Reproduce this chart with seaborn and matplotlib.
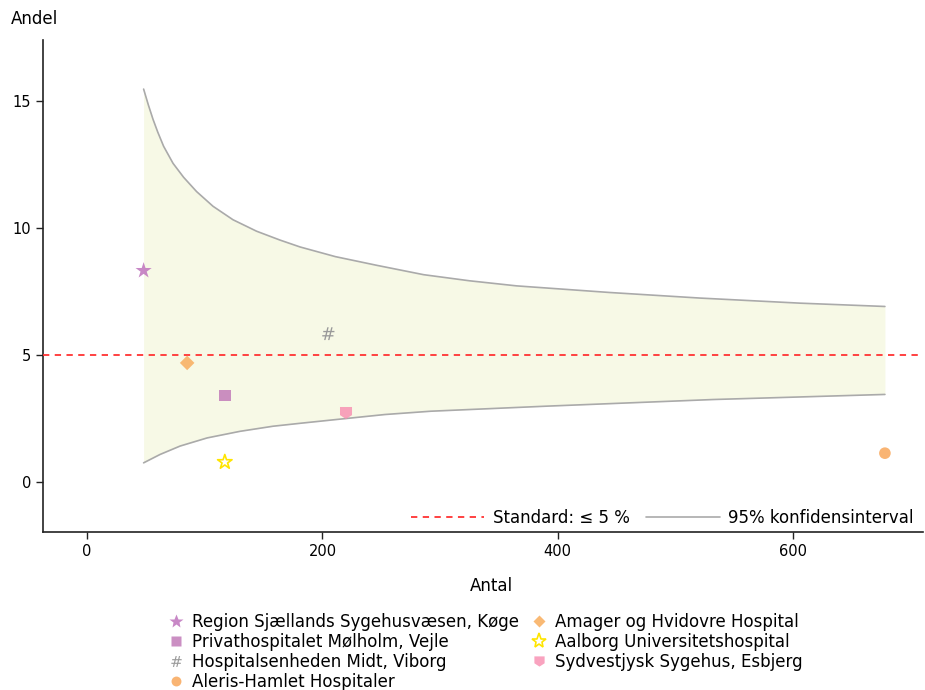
import numpy as np
import pandas as pd
import matplotlib
matplotlib.use("Agg")
import matplotlib.pyplot as plt
from matplotlib.path import Path
from matplotlib.lines import Line2D
import seaborn as sns

# Hospitals: number of patients (Antal) and share in percent (Andel)
hospitals = [
    "Region Sjællands Sygehusvæsen, Køge",
    "Privathospitalet Mølholm, Vejle",
    "Hospitalsenheden Midt, Viborg",
    "Aleris-Hamlet Hospitaler",
    "Amager og Hvidovre Hospital",
    "Aalborg Universitetshospital",
    "Sydvestjysk Sygehus, Esbjerg",
]
antal = [48, 117, 205, 678, 85, 117, 220]
andel = [8.33, 3.42, 5.85, 1.15, 4.70, 0.80, 2.73]

# 95% control limits around the 5 % standard
ci_upper_n = [48, 52, 56, 60, 65, 73, 82, 93, 107, 124, 144, 164, 181, 211,
              246, 286, 325, 365, 444, 521, 606, 678]
ci_upper = [15.47, 14.85, 14.28, 13.78, 13.22, 12.55, 12.00, 11.44, 10.86, 10.33,
            9.88, 9.53, 9.26, 8.88, 8.54, 8.17, 7.93, 7.73, 7.47, 7.25, 7.05, 6.92]
ci_lower_n = [48, 62, 79, 102, 130, 158, 182, 211, 253, 292, 391, 532, 678]
ci_lower = [0.77, 1.10, 1.43, 1.75, 2.01, 2.21, 2.33, 2.47, 2.67, 2.80, 3.00,
            3.26, 3.46]

standard = 5

# shield-shaped marker for Esbjerg
shield = Path([(-1, 1), (1, 1), (1, -0.35), (0, -1), (-1, -0.35), (-1, 1)],
              [Path.MOVETO, Path.LINETO, Path.LINETO, Path.LINETO, Path.LINETO,
               Path.CLOSEPOLY])

styles = {
    hospitals[0]: dict(marker="*", color="#c27bc0", s=150, alpha=0.9),
    hospitals[1]: dict(marker="s", color="#c27bb9", s=70, alpha=0.85),
    hospitals[2]: dict(marker="$\\#$", color="#9a9a9a", s=85, alpha=1.0),
    hospitals[3]: dict(marker="o", color="#f9b06b", s=70, alpha=0.95),
    hospitals[4]: dict(marker="D", color="#f9b56c", s=55, alpha=0.95),
    hospitals[5]: dict(marker="*", color="#ffe500", s=120, alpha=1.0, hollow=True),
    hospitals[6]: dict(marker=shield, color="#f88cb0", s=75, alpha=0.8),
}

sns.set_theme(style="ticks")
plt.rcParams["font.family"] = ["DejaVu Sans"]
plt.rcParams["text.color"] = "black"
plt.rcParams["axes.labelcolor"] = "black"
plt.rcParams["xtick.color"] = "black"
plt.rcParams["ytick.color"] = "black"

fig = plt.figure(figsize=(9.25, 6.9), dpi=100)
ax = fig.add_axes([0.0465, 0.229, 0.9515, 0.713])

# shaded band between the limits
band_n = np.union1d(ci_upper_n, ci_lower_n)
band_hi = np.interp(band_n, ci_upper_n, ci_upper)
band_lo = np.interp(band_n, ci_lower_n, ci_lower)
ax.fill_between(band_n, band_lo, band_hi, color="#f7f9e6", linewidth=0, zorder=1)
sns.lineplot(x=ci_upper_n, y=ci_upper, ax=ax, color="#aaaaaa", linewidth=1.2, zorder=2)
sns.lineplot(x=ci_lower_n, y=ci_lower, ax=ax, color="#aaaaaa", linewidth=1.2, zorder=2)
ax.axhline(standard, color="#ff3333", linestyle=(0, (3.5, 3)), linewidth=1.3, zorder=3)

handles = []
for name, n, p in zip(hospitals, antal, andel):
    kw = dict(styles[name])
    hollow = kw.pop("hollow", False)
    col = kw.pop("color")
    if hollow:
        sns.scatterplot(x=[n], y=[p], ax=ax, facecolor="none", edgecolor=col,
                        linewidth=1.2, zorder=4, **kw)
        handles.append(Line2D([], [], linestyle="none", marker=kw["marker"],
                              markersize=11, markerfacecolor="none",
                              markeredgecolor=col, markeredgewidth=1.2, label=name))
    else:
        sns.scatterplot(x=[n], y=[p], ax=ax, color=col, edgecolor="none", zorder=4, **kw)
        ms = np.sqrt(kw["s"]) * 0.85
        handles.append(Line2D([], [], linestyle="none", marker=kw["marker"], markersize=ms,
                              markerfacecolor=col, markeredgecolor="none",
                              color=col, alpha=kw["alpha"], label=name))

ax.set_xlim(-37.5, 710.5)
ax.set_ylim(-1.95, 17.4)
ax.set_xticks([0, 200, 400, 600])
ax.set_yticks([0, 5, 10, 15])
ax.tick_params(labelsize=10.5, length=5, width=1, color="#222222")
sns.despine(ax=ax)
for sp in ("left", "bottom"):
    ax.spines[sp].set_color("#222222")
    ax.spines[sp].set_linewidth(1.2)

ax.set_xlabel("Antal", fontsize=12)
ax.xaxis.set_label_coords(0.51, -0.091)
ax.set_ylabel("")
fig.text(11 / 925, 1 - 19 / 690, "Andel", fontsize=12, va="center", ha="left")

ref_handles = [
    Line2D([], [], color="#ff3333", linestyle=(0, (3.5, 3)), linewidth=1.3,
           label="Standard: ≤ 5 %"),
    Line2D([], [], color="#aaaaaa", linewidth=1.2, label="95% konfidensinterval"),
]
ax.legend(handles=ref_handles, loc="lower right", ncol=2, frameon=False,
          fontsize=12, handlelength=4.4, handletextpad=0.5, columnspacing=1.0,
          bbox_to_anchor=(1.006, -0.021))

fig.legend(handles=handles, loc="upper left", ncol=2, frameon=False,
           fontsize=12, bbox_to_anchor=(159 / 925, 1 - 606 / 690),
           handletextpad=0.35, columnspacing=0.65, labelspacing=0.12,
           borderaxespad=0, handlelength=1.2)

fig.savefig("out.png", dpi=100)
